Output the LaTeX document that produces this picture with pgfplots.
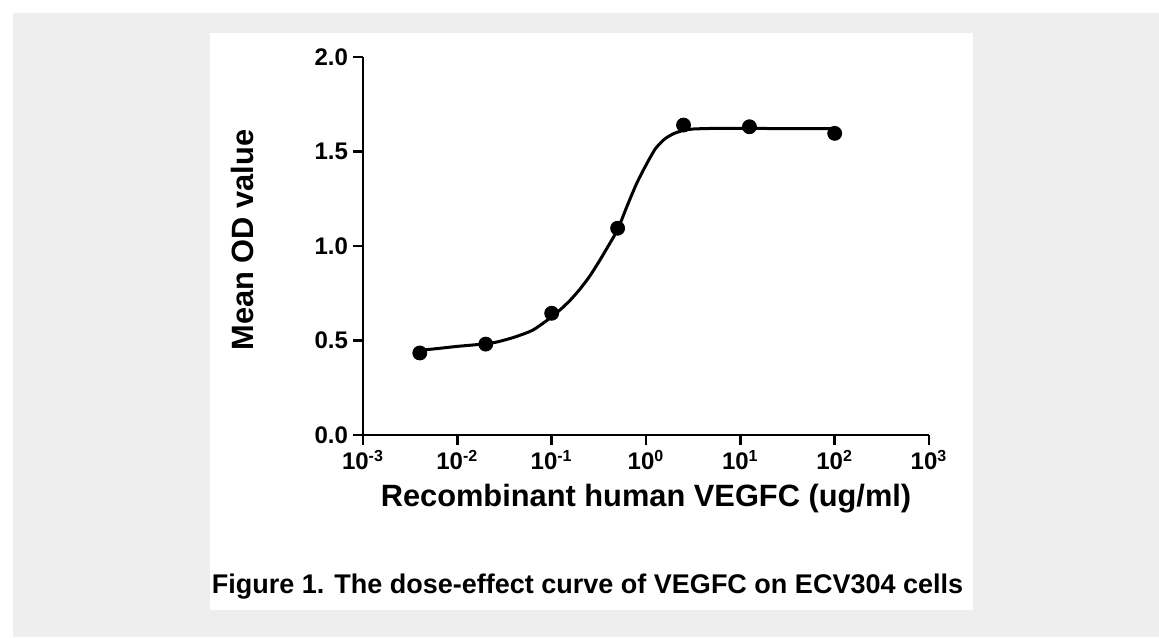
\documentclass[border=0pt]{standalone}
\usepackage{pgfplots}
\pgfplotsset{compat=1.18}
\usepackage{fontspec}
\setmainfont{Liberation Sans}
\definecolor{bg}{HTML}{EEEEEE}
\begin{document}
\begin{tikzpicture}
\useasboundingbox (0,0) rectangle (579.5pt,-318.5pt);
\fill[white] (0,0) rectangle (579.5pt,-318.5pt);
\fill[bg] (6.5pt,-6.5pt) rectangle (579.5pt,-318.5pt);
\fill[white] (105pt,-16.5pt) rectangle (486.5pt,-305pt);
\begin{axis}[
  at={(181.5pt,-217.5pt)}, anchor=south west,
  scale only axis, width=283pt, height=189pt,
  xmode=log, xmin=1e-3, xmax=1e3, ymin=0, ymax=2,
  axis lines*=left, axis line style={-, line width=1.2pt},
  tick style={line width=1.2pt, black},
  tick align=outside, major tick length=5pt,
  xminorticks=false,
  xtick={1e-3,1e-2,1e-1,1,1e1,1e2,1e3},
  xticklabels={10\textsuperscript{-3},10\textsuperscript{-2},10\textsuperscript{-1},10\textsuperscript{0},10\textsuperscript{1},10\textsuperscript{2},10\textsuperscript{3}},
  ytick={0,0.5,1,1.5,2},
  yticklabels={0.0,0.5,1.0,1.5,2.0},
  ticklabel style={font=\fontsize{12}{14}\selectfont\bfseries},
  yticklabel style={xshift=1pt},
  xticklabel style={yshift=1pt},
  xlabel={Recombinant human VEGFC (ug/ml)},
  ylabel={Mean OD value},
  label style={font=\fontsize{15.4}{18}\selectfont\bfseries},
  xlabel style={at={(axis description cs:0.5,0)}, anchor=base, yshift=-35.5pt},
  ylabel style={at={(axis description cs:0,0.5)}, anchor=base, xshift=3pt, yshift=54.5pt},
  clip=false,
]
\addplot[black, line width=1.5pt, smooth, tension=0.4, no markers] coordinates {
(0.004,0.448) (0.00631,0.458) (0.01,0.469) (0.01585,0.478) (0.02512,0.490)
(0.03981,0.517) (0.0631,0.555) (0.1,0.625) (0.1259,0.667) (0.1585,0.715)
(0.1995,0.772) (0.2512,0.838) (0.3162,0.916) (0.3981,1.000) (0.5012,1.088)
(0.631,1.212) (0.7943,1.330) (1,1.428) (1.259,1.515) (1.585,1.567)
(1.995,1.596) (2.512,1.612) (3.162,1.619) (5.012,1.622) (10,1.622) (100,1.621)
};
\addplot[only marks, mark=*, mark size=3.5pt, black] coordinates {
(0.004,0.434) (0.02,0.481) (0.1,0.644) (0.5,1.094) (2.5,1.640) (12.5,1.631) (100,1.596)
};
\end{axis}
\node[anchor=base, font=\fontsize{13.5}{16}\selectfont\bfseries] at (293.75pt,-296.5pt) {Figure 1. The dose-effect curve of VEGFC on ECV304 cells};
\end{tikzpicture}
\end{document}
